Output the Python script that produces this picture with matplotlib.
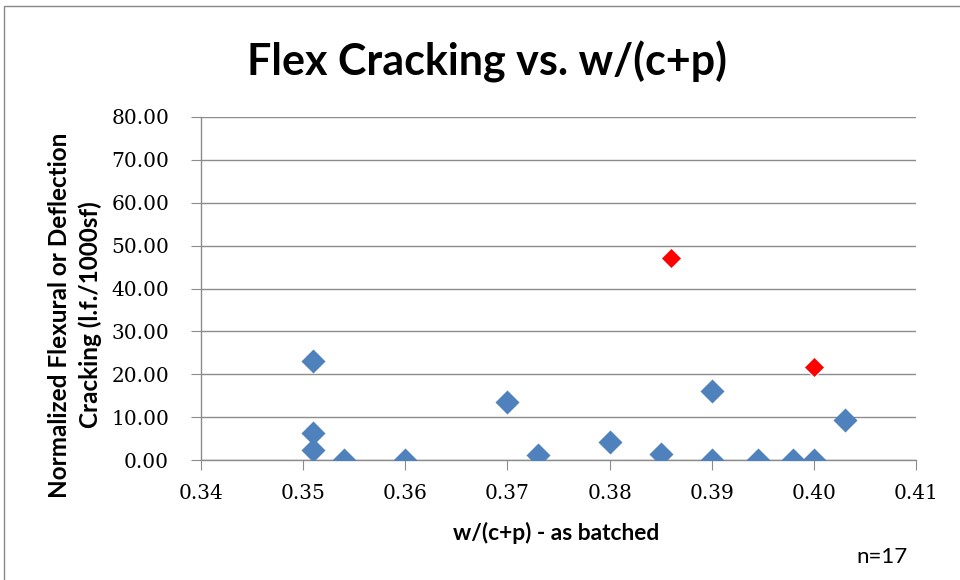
import matplotlib
matplotlib.use("Agg")
import matplotlib.pyplot as plt
from matplotlib.patches import Rectangle
from matplotlib.ticker import FormatStrFormatter, MultipleLocator

# Data
blue_x = [0.351, 0.351, 0.351, 0.354, 0.360, 0.370, 0.373, 0.380, 0.385,
          0.390, 0.390, 0.3945, 0.398, 0.400, 0.403]
blue_y = [23.1, 6.4, 2.3, 0.0, 0.0, 13.6, 1.1, 4.2, 1.5,
          16.1, 0.0, 0.0, 0.0, 0.0, 9.3]
red_x = [0.386, 0.400]
red_y = [47.0, 21.7]

title = "Flex Cracking vs. w/(c+p)"
xlabel = "w/(c+p) - as batched"
ylabel = "Normalized Flexural or Deflection\nCracking (l.f./1000sf)"
note = "n=17"

fig = plt.figure(figsize=(9.6, 5.8), dpi=100)
fig.patch.set_facecolor("white")
# outer chart border
fig.add_artist(Rectangle((4 / 960, -0.05), 1.05, 1 - 6 / 580 + 0.05,
                         transform=fig.transFigure, fill=False,
                         edgecolor="#888888", linewidth=1.0))

ax = fig.add_axes([201 / 960, 1 - 460 / 580, (916 - 201) / 960, (460 - 117) / 580])
ax.set_xlim(0.34, 0.41)
ax.set_ylim(0, 80)
ax.xaxis.set_major_locator(MultipleLocator(0.01))
ax.yaxis.set_major_locator(MultipleLocator(10))
ax.xaxis.set_major_formatter(FormatStrFormatter("%.2f"))
ax.yaxis.set_major_formatter(FormatStrFormatter("%.2f"))

ax.grid(axis="y", color="#8c8c8c", linewidth=1.0)
ax.set_axisbelow(True)
for s in ["top", "right"]:
    ax.spines[s].set_visible(False)
for s in ["left", "bottom"]:
    ax.spines[s].set_color("#8c8c8c")
    ax.spines[s].set_linewidth(1.0)
ax.tick_params(axis="y", direction="out", length=7, color="#8c8c8c",
               labelsize=14.5, pad=16)
ax.tick_params(axis="x", direction="out", length=7, color="#8c8c8c",
               labelsize=14.5, pad=10)
for lab in ax.get_xticklabels() + ax.get_yticklabels():
    lab.set_fontfamily("DejaVu Serif")

ax.scatter(blue_x, blue_y, marker="D", s=150, color="#4F81BD", zorder=3,
           linewidths=0)
ax.scatter(red_x, red_y, marker="D", s=110, color="#FF0000", zorder=3,
           edgecolors="white", linewidths=0.8)

fig.text(487 / 960, 1 - 62 / 580, title, ha="center", va="center",
         fontsize=31, fontweight="bold", family="Lato")
fig.text(556 / 960, 1 - 533 / 580, xlabel, ha="center", va="center",
         fontsize=16.4, fontweight="bold", family="Lato")
fig.text(75 / 960, 1 - 315 / 580, ylabel, ha="center", va="center",
         rotation=90, fontsize=17.5, fontweight="bold", family="Lato",
         linespacing=1.35, multialignment="center")
fig.text(882 / 960, 1 - 557 / 580, note, ha="center", va="center",
         fontsize=16, family="Lato")

fig.savefig("out.png", dpi=100)
